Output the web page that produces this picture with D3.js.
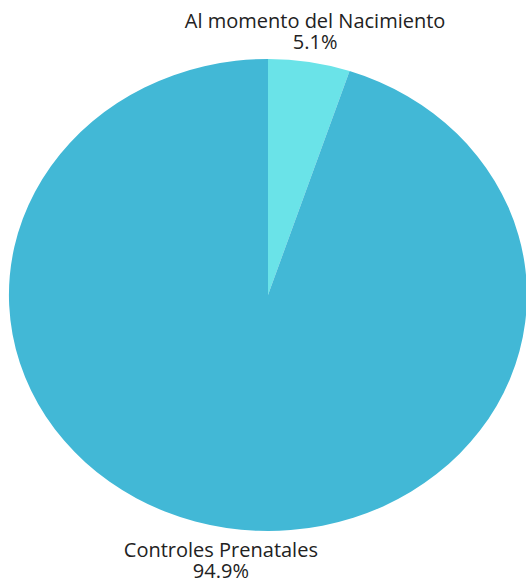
<!DOCTYPE html>
<html>
<head>
<meta charset="utf-8">
<script src="https://cdn.jsdelivr.net/npm/d3@7"></script>
<style>
  body { margin: 0; background: #fff; }
  text { font-family: "Open Sans", "Noto Sans", sans-serif; font-size: 20px; fill: #222; }
</style>
</head>
<body>
<svg id="chart" width="526" height="578"></svg>
<script>
// data
const categories = ["Al momento del Nacimiento", "Controles Prenatales"];
const values = [5.1, 94.9];
const colors = ["#6ae3e8", "#42b8d6"];

const svg = d3.select("#chart");
const cx = 268, cy = 295, rx = 259, ry = 236;

const pie = d3.pie().sort(null).value(d => d.value);
const arcs = pie(categories.map((c, i) => ({ name: c, value: values[i], color: colors[i] })));

// unit arc, then stretch into the ellipse
const arc = d3.arc().innerRadius(0).outerRadius(1);

const g = svg.append("g")
  .attr("transform", `translate(${cx},${cy}) scale(${rx},${ry})`);

g.selectAll("path")
  .data(arcs)
  .enter()
  .append("path")
  .attr("d", arc)
  .attr("fill", d => d.data.color);

// labels sit outside the ellipse at each slice's mid angle
svg.selectAll(".lbl")
  .data(arcs)
  .enter()
  .append("text")
  .attr("class", "lbl")
  .attr("text-anchor", "middle")
  .each(function (d) {
    const a = (d.startAngle + d.endAngle) / 2;
    const x = cx + rx * Math.sin(a) * 1.14;
    const top = Math.cos(a) > 0;
    const yEdge = cy - ry * Math.cos(a);
    const y1 = top ? yEdge - 34 : yEdge + 29;
    const t = d3.select(this);
    t.append("tspan").attr("x", x).attr("y", y1).text(d.data.name);
    t.append("tspan").attr("x", x).attr("y", y1 + 21).text(d.data.value.toFixed(1) + "%");
  });
</script>
</body>
</html>
